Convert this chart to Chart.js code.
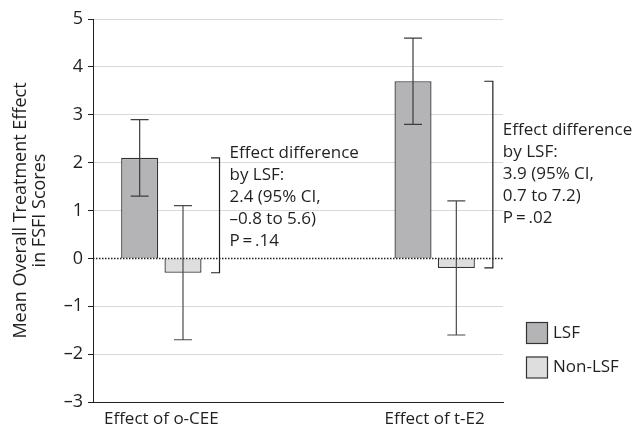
<!DOCTYPE html>
<html>
<head>
<meta charset="utf-8">
<script src="https://cdn.jsdelivr.net/npm/chart.js@4.4.1/dist/chart.umd.min.js"></script>
<style>
  html, body { margin: 0; padding: 0; background: #fff; }
</style>
</head>
<body>
<canvas id="chart" width="635" height="428"></canvas>
<script>
// categories (middle one is an empty spacer slot)
const categories = ["Effect of o-CEE", "", "Effect of t-E2"];
const seriesNames = ["LSF", "Non-LSF"];

const lsfMean = [2.1, null, 3.7];
const lsfLow = [1.3, null, 2.8];
const lsfHigh = [2.9, null, 4.6];

const nonLsfMean = [-0.3, null, -0.2];
const nonLsfLow = [-1.7, null, -1.6];
const nonLsfHigh = [1.1, null, 1.2];

// effect difference by LSF, per category
const diffEst = [2.4, null, 3.9];
const diffLow = [-0.8, null, 0.7];
const diffHigh = [5.6, null, 7.2];
const diffP = [".14", null, ".02"];

const yTicks = [-3, -2, -1, 0, 1, 2, 3, 4, 5];
const yTitle = ["Mean Overall Treatment Effect", "in FSFI Scores"];

const INK = "#231f20";
const FONT = "'Open Sans', 'Noto Sans', sans-serif";

function fmt(v) {
  return v < 0 ? "\u2013" + Math.abs(v) : String(v);
}
function fmt1(v) {
  return v < 0 ? "\u2013" + Math.abs(v).toFixed(1) : v.toFixed(1);
}

const extras = {
  id: "extras",
  afterDatasetsDraw(chart) {
    const ctx = chart.ctx;
    const y = chart.scales.y;
    const area = chart.chartArea;
    const lows = [lsfLow, nonLsfLow];
    const highs = [lsfHigh, nonLsfHigh];
    ctx.save();

    // error bars
    ctx.setLineDash([]);
    for (let d = 0; d < 2; d++) {
      const meta = chart.getDatasetMeta(d);
      meta.data.forEach((el, i) => {
        if (lows[d][i] == null) return;
        const x = el.x;
        const y1 = y.getPixelForValue(highs[d][i]);
        const y2 = y.getPixelForValue(lows[d][i]);
        ctx.strokeStyle = d == 0 ? "#3d3d3d" : "#4a4a4a";
        ctx.lineWidth = 1.2;
        ctx.beginPath();
        ctx.moveTo(x, y1); ctx.lineTo(x, y2);
        ctx.moveTo(x - 9, y1); ctx.lineTo(x + 9, y1);
        ctx.moveTo(x - 9, y2); ctx.lineTo(x + 9, y2);
        ctx.stroke();
      });
    }

    // dotted zero line
    const y0 = y.getPixelForValue(0);
    ctx.strokeStyle = INK;
    ctx.lineWidth = 1.5;
    ctx.setLineDash([1.5, 1.5]);
    ctx.beginPath();
    ctx.moveTo(area.left, y0);
    ctx.lineTo(area.right, y0);
    ctx.stroke();
    ctx.setLineDash([]);

    // brackets + difference text
    const nonMeta = chart.getDatasetMeta(1);
    ctx.font = "17px " + FONT;
    ctx.fillStyle = INK;
    ctx.textBaseline = "middle";
    ctx.textAlign = "left";
    categories.forEach((c, i) => {
      if (diffEst[i] == null) return;
      const el = nonMeta.data[i];
      const x0 = el.x + el.width / 2 + 9.5;
      const x1 = x0 + 8.5;
      const yTop = y.getPixelForValue(lsfMean[i]);
      const yBot = y.getPixelForValue(nonLsfMean[i]);
      ctx.strokeStyle = INK;
      ctx.lineWidth = 1.2;
      ctx.beginPath();
      ctx.moveTo(x0, yTop); ctx.lineTo(x1, yTop);
      ctx.lineTo(x1, yBot); ctx.lineTo(x0, yBot);
      ctx.stroke();

      const lines = [
        "Effect difference",
        "by LSF:",
        fmt1(diffEst[i]) + " (95% CI,",
        fmt1(diffLow[i]) + " to " + fmt1(diffHigh[i]) + ")",
        "P\u2009=\u2009" + diffP[i]
      ];
      const lh = 22;
      let first;
      if (yBot - yTop > 150) first = (yTop + yBot) / 2 - lh * (lines.length - 1) / 2;
      else first = yTop - 5;
      lines.forEach((t, k) => ctx.fillText(t, x1 + 10, first + k * lh));
    });

    // legend
    const fills = chart.data.datasets.map(ds => ds.backgroundColor);
    const lx = area.right + 23;
    chart.data.datasets.forEach((ds, k) => {
      const by = area.bottom - 80 + k * 34.5;
      ctx.fillStyle = fills[k];
      ctx.fillRect(lx, by, 21, 21);
      ctx.strokeStyle = "#333";
      ctx.lineWidth = 1.2;
      ctx.strokeRect(lx + 0.5, by + 0.5, 21, 21);
      ctx.fillStyle = INK;
      ctx.fillText(ds.label, lx + 27, by + 11);
    });
    ctx.restore();
  }
};

new Chart(document.getElementById("chart"), {
  type: "bar",
  data: {
    labels: categories,
    datasets: [
      {
        label: seriesNames[0],
        data: lsfMean,
        backgroundColor: "#b4b4b7",
        borderColor: "#333",
        borderWidth: 1.3
      },
      {
        label: seriesNames[1],
        data: nonLsfMean,
        backgroundColor: "#dedede",
        borderColor: "#333",
        borderWidth: 1.3
      }
    ]
  },
  options: {
    responsive: false,
    animation: false,
    categoryPercentage: 0.634,
    barPercentage: 0.855,
    layout: { padding: { top: 19, right: 132, left: 0, bottom: 0 } },
    plugins: {
      legend: { display: false },
      tooltip: { enabled: false }
    },
    scales: {
      x: {
        afterFit: (s) => { s.height = 26; },
        grid: { display: false, drawTicks: false },
        border: { display: true, color: INK, width: 1 },
        ticks: {
          color: INK,
          padding: 7,
          font: { family: FONT, size: 17 },
          maxRotation: 0,
          autoSkip: false
        }
      },
      y: {
        min: -3,
        max: 5,
        afterFit: (s) => { s.width = 93; },
        afterBuildTicks: (s) => { s.ticks = yTicks.map(v => ({ value: v })); },
        grid: {
          color: (c) => (c.tick && c.tick.value === 0 ? "rgba(0,0,0,0)" : "#d9d9d9"),
          tickColor: INK,
          tickLength: 5,
          lineWidth: 1
        },
        border: { display: true, color: INK, width: 1 },
        ticks: {
          color: INK,
          padding: 5,
          font: { family: FONT, size: 18 },
          callback: (v) => fmt(v)
        },
        title: {
          display: true,
          text: yTitle,
          color: INK,
          font: { family: FONT, size: 18, lineHeight: 1.06 },
          padding: { top: 11.5, bottom: 0 }
        }
      }
    }
  },
  plugins: [extras]
});
</script>
</body>
</html>
